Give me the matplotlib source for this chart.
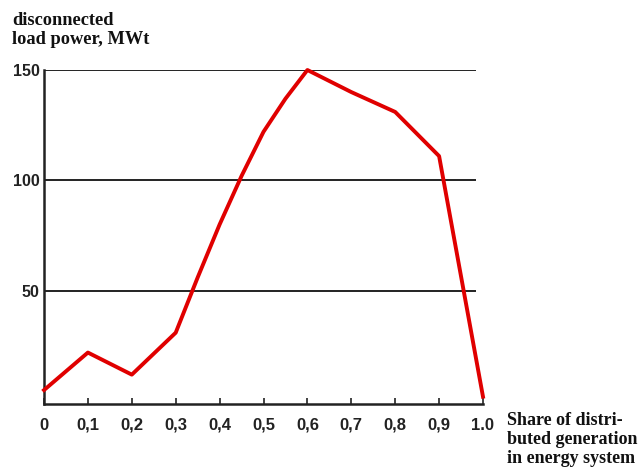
import matplotlib
matplotlib.use("Agg")
import matplotlib.pyplot as plt

share = [0.0, 0.1, 0.2, 0.3, 0.35, 0.4, 0.45, 0.5, 0.55, 0.6, 0.7, 0.8, 0.9, 1.0]
power = [5, 22, 12, 31, 56, 80, 102, 122, 137, 150, 140, 131, 111, 2]
x_ticks = [0.0, 0.1, 0.2, 0.3, 0.4, 0.5, 0.6, 0.7, 0.8, 0.9, 1.0]
x_labels = ['0', '0,1', '0,2', '0,3', '0,4', '0,5', '0,6', '0,7', '0,8', '0,9', '1.0']
y_ticks = [50, 100, 150]
y_labels = ['50', '100', '150']

fig = plt.figure(figsize=(6.41, 4.72), dpi=100)
ax = fig.add_axes([44/641, (472-404)/472, (483-44)/641, (404-70)/472])
ax.set_xlim(0, 1.0)
ax.set_ylim(-1.3, 150)

for yv in y_ticks:
    ax.hlines(yv, 0, 0.985, color='#222222', lw=1.4, zorder=1)

ax.plot(share, power, color='#e00000', lw=2.8, solid_joinstyle='round', zorder=3, clip_on=False)

for s in ['top', 'right']:
    ax.spines[s].set_visible(False)
for s in ['left', 'bottom']:
    ax.spines[s].set_linewidth(1.8)
    ax.spines[s].set_color('#222222')

ax.set_xticks(x_ticks)
ax.set_xticklabels(x_labels, fontfamily='Liberation Sans', fontweight='bold', fontsize=12)
ax.set_yticks(y_ticks)
ax.set_yticklabels(y_labels, fontfamily='Liberation Sans', fontweight='bold', fontsize=11.5)
ax.tick_params(axis='x', direction='in', length=4, width=1.2, pad=10, colors='#222222')
ax.tick_params(axis='y', length=0, pad=3, colors='#222222')

fig.text(12/641, 1 - 12/472, 'disconnected\nload power, MWt', fontfamily='Liberation Serif',
         fontweight='bold', fontsize=13.2, va='top', ha='left', linespacing=1.15, color='#111111')
fig.text(507/641, 1 - 412/472, 'Share of distri-\nbuted generation\nin energy system',
         fontfamily='Liberation Serif', fontweight='bold', fontsize=13, va='top', ha='left',
         linespacing=1.17, color='#111111')

fig.savefig('out.png', dpi=100)
